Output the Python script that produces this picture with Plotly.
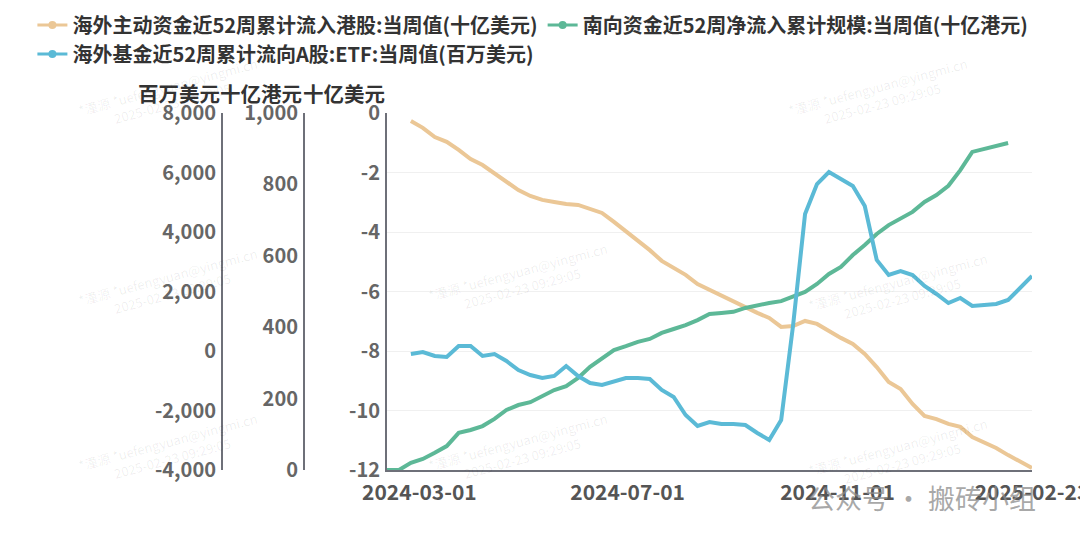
import pandas as pd
import plotly.graph_objects as go

# weekly dates (Sundays)
dates = pd.date_range("2024-02-25", "2025-02-23", freq="7D")
dates_south = pd.date_range("2024-02-11", "2025-02-09", freq="7D")

# 海外主动资金近52周累计流入港股 (十亿美元)
active_hk = [-0.27, -0.50, -0.81, -0.97, -1.24, -1.55, -1.75, -2.02, -2.32, -2.59,
             -2.79, -2.92, -2.99, -3.06, -3.09, -3.23, -3.36, -3.66, -3.97, -4.30,
             -4.61, -4.97, -5.21, -5.44, -5.75, -5.95, -6.15, -6.35, -6.55, -6.72,
             -6.89, -7.19, -7.16, -6.99, -7.09, -7.33, -7.56, -7.76, -8.10, -8.54,
             -9.04, -9.28, -9.78, -10.18, -10.29, -10.45, -10.55, -10.89, -11.09, -11.26,
             -11.50, -11.70, -11.93]

# 南向资金近52周净流入累计规模 (十亿港元)
southbound = [0, 0, 20, 31, 48, 67, 104, 112, 123, 143,
              168, 182, 190, 207, 224, 235, 258, 289, 314, 336,
              347, 359, 367, 384, 395, 406, 420, 437, 440, 443,
              454, 462, 468, 473, 485, 499, 521, 549, 569, 602,
              630, 661, 686, 703, 723, 751, 770, 796, 840, 891,
              899, 908, 916]

# 海外基金近52周累计流向A股:ETF (百万美元)
etf_a = [-101, -34, -168, -202, 168, 168, -168, -101, -336, -639,
         -807, -908, -840, -504, -840, -1076, -1143, -1008, -908, -908,
         -941, -1311, -1546, -2151, -2521, -2387, -2454, -2454, -2487, -2756,
         -2992, -2319, 874, 4605, 5613, 6017, 5782, 5546, 4874, 3059,
         2555, 2689, 2555, 2185, 1916, 1613, 1782, 1513, 1546, 1580,
         1714, 2118, 2521]

names = ["海外主动资金近52周累计流入港股:当周值(十亿美元)",
         "南向资金近52周净流入累计规模:当周值(十亿港元)",
         "海外基金近52周累计流向A股:ETF:当周值(百万美元)"]
colors = ["#EBC796", "#5DB897", "#5BBAD6"]

y1_ticks = [0, -2, -4, -6, -8, -10, -12]
y2_ticks = [0, 200, 400, 600, 800, 1000]
y3_ticks = [-4000, -2000, 0, 2000, 4000, 6000, 8000]
x_ticks = ["2024-03-01", "2024-07-01", "2024-11-01", "2025-02-23"]

FONT = "Noto Sans CJK SC"
AXIS_GRAY = "#6E7079"

fig = go.Figure()
series = [(dates, active_hk, "y"), (dates_south, southbound, "y2"), (dates, etf_a, "y3")]
for (xs, ys, ax), nm, col in zip(series, names, colors):
    fig.add_trace(go.Scatter(x=xs, y=ys, name=nm, mode="lines", yaxis=ax,
                             line=dict(color=col, width=4), showlegend=False))
# legend entries (line with a dot, echarts style)
for nm, col in zip(names, colors):
    fig.add_trace(go.Scatter(x=[None], y=[None], name=nm, mode="lines+markers",
                             line=dict(color=col, width=3),
                             marker=dict(color=col, size=8)))

tickfont = dict(family=FONT, size=20, color="#666666", weight="bold")
common_y = dict(showline=True, linecolor=AXIS_GRAY, linewidth=2, zeroline=False,
                ticks="", tickfont=tickfont, ticklabelstandoff=1, side="left",
                automargin=False)

fig.update_layout(
    width=1080, height=540,
    margin=dict(l=0, r=0, t=0, b=0, autoexpand=False),
    plot_bgcolor="white", paper_bgcolor="white",
    font=dict(family=FONT),
    xaxis=dict(domain=[387 / 1080, 1032 / 1080], type="date",
               range=["2024-02-11", "2025-02-23"],
               tickvals=x_ticks, tickformat="%Y-%m-%d",
               showline=True, linecolor=AXIS_GRAY, linewidth=2,
               showgrid=False, zeroline=False, ticks="", automargin=False,
               ticklabeloverflow="allow",
               tickfont=dict(family=FONT, size=21, color="#555555", weight="bold"),
               ticklabelstandoff=3),
    yaxis=dict(domain=[70 / 540, 427 / 540], range=[-12, 0],
               tickvals=y1_ticks, ticktext=[str(v) for v in y1_ticks],
               showgrid=True, gridcolor="#F0F0F0", gridwidth=1, **common_y),
    yaxis2=dict(range=[0, 1000], overlaying="y", anchor="free",
                position=304 / 1080,
                tickvals=y2_ticks, ticktext=[f"{v:,}" for v in y2_ticks],
                showgrid=False, **common_y),
    yaxis3=dict(range=[-4000, 8000], overlaying="y", anchor="free",
                position=222 / 1080,
                tickvals=y3_ticks, ticktext=[f"{v:,}" for v in y3_ticks],
                showgrid=False, **common_y),
    legend=dict(orientation="h", x=0.03, y=0.99, xanchor="left", yanchor="top",
                font=dict(family=FONT, size=20, color="#333333", weight="bold"),
                itemwidth=30, tracegroupgap=0, bgcolor="rgba(0,0,0,0)"),
    showlegend=True,
)

# axis unit titles
for txt, xpos in [("百万美元", 222), ("十亿港元", 304), ("十亿美元", 387)]:
    fig.add_annotation(text=txt, xref="paper", yref="paper", x=xpos / 1080,
                       y=1 - 93 / 540, xanchor="right", yanchor="middle",
                       showarrow=False,
                       font=dict(family=FONT, size=20.5, color="#333333", weight="bold"))

# faint watermarks
wm = "*潼源 *uefengyuan@yingmi.cn<br>2025-02-23 09:29:05"
for wx, wy in [(170, 95), (880, 95), (170, 285), (520, 280), (900, 290),
               (170, 450), (520, 450), (900, 455)]:
    fig.add_annotation(text=wm, xref="paper", yref="paper", x=wx / 1080,
                       y=1 - wy / 540, xanchor="center", yanchor="middle",
                       showarrow=False, textangle=-15,
                       font=dict(family=FONT, size=13, color="rgba(0,0,0,0.07)"))

fig.add_annotation(text="公众号 · 搬砖小组", xref="paper", yref="paper",
                   x=922 / 1080, y=1 - 497 / 540, xanchor="center", yanchor="middle",
                   showarrow=False,
                   font=dict(family=FONT, size=27, color="rgba(140,140,140,0.75)"))

# page body has an 8px default margin; drop it so the figure sits at the origin
fig.write_html("out.html", config={"displayModeBar": False},
               post_script="document.body.style.margin='0';")
